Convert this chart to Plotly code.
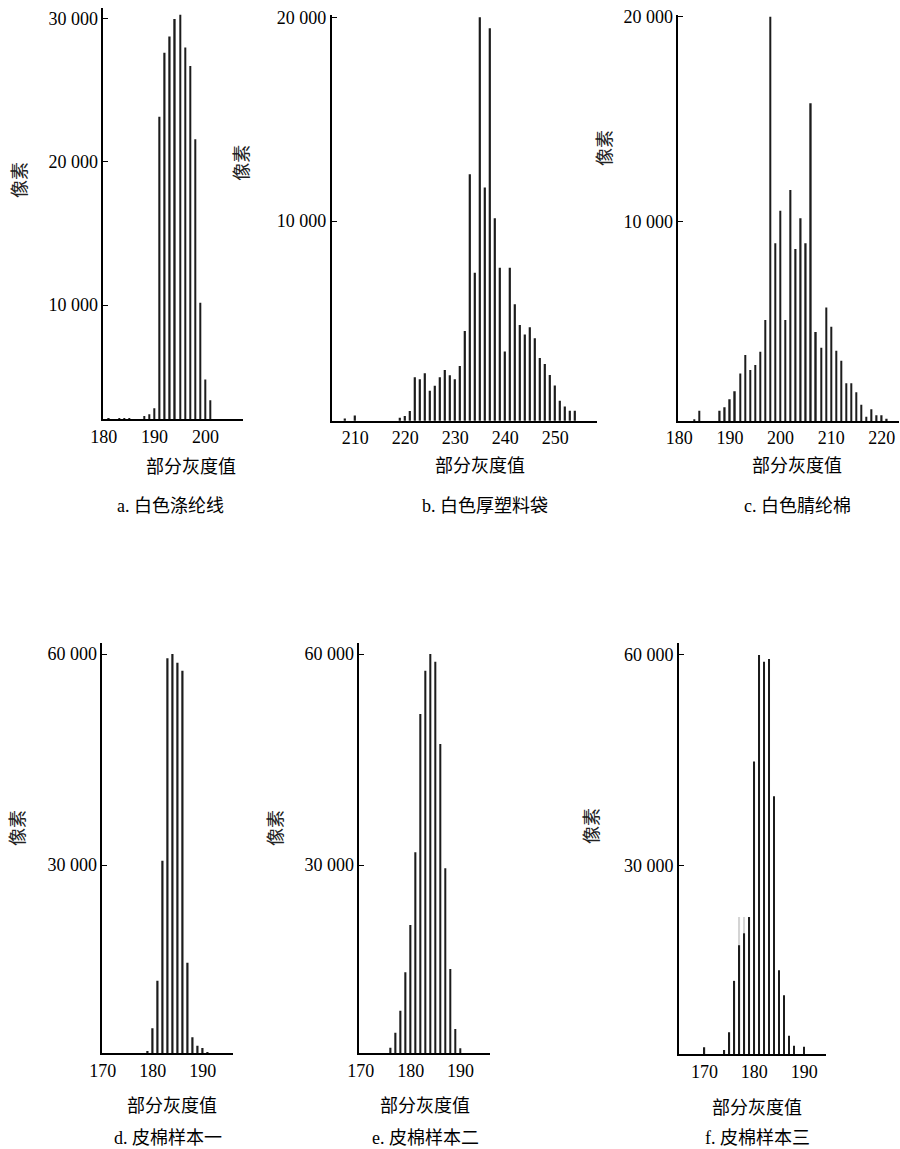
import plotly.graph_objects as go

W, H = 900, 1149

# ---------------- data ----------------
a_x = [181, 183, 184, 185, 188, 189, 190, 191, 192, 193, 194, 195, 196, 197, 198, 199, 200, 201]
a_y = [2110, 2110, 2110, 2110, 2260, 2370, 2800, 23140, 27600, 28730, 29960, 30260, 27970, 26670,
       21560, 10160, 4810, 3350]

b_x = [208, 210] + list(range(219, 255))
b_y = [300, 450,
       340, 430, 670, 2330, 2230, 2520, 1670, 1915, 2330, 2690, 2425, 2230, 2880, 4600,
       12300, 7460, 20000, 11650, 19460, 10130, 7710, 3590, 7710, 5910, 4890, 4430, 4780,
       4240, 3280, 2980, 2440, 1930, 1180, 890, 690, 690]

c_x = [183, 184] + list(range(188, 222))
c_y = [360, 780,
       780, 950, 1340, 1730, 2600, 3500, 2770, 3010, 3660, 5200, 20000, 8950, 10540, 5200,
       11550, 8670, 10170, 8950, 15780, 4620, 3850, 5820, 4880, 3710, 3220, 2120, 2120,
       1680, 1070, 490, 850, 560, 560, 390]

d_x = list(range(179, 192))
d_y = [3550, 6780, 13550, 30610, 59390, 60000, 58770, 57630, 16110, 5500, 4300, 3980, 3400]

e_x = list(range(176, 191))
e_y = [4020, 6150, 9280, 14740, 21470, 31800, 51470, 57630, 60000, 58910, 47200, 29530,
       15210, 6680, 3940]

f_x = [170] + list(range(174, 189)) + [190]
f_y = [4080, 3700, 6210, 13550, 18630, 20330, 22650, 44830, 60000, 59050, 59430, 39850,
       15070, 11510, 5730, 4310, 4160]
# faint grey overdrawn strokes in panel f
f_grey_x = [177, 178]
f_grey_y = [22650, 22650]

# tick labels
a_xticks = [180, 190, 200]
a_yticks = [10000, 20000, 30000]
a_yticktext = ["10 000", "20 000", "30 000"]
b_xticks = [210, 220, 230, 240, 250]
bc_yticks = [10000, 20000]
bc_yticktext = ["10 000", "20 000"]
c_xticks = [180, 190, 200, 210, 220]
def_xticks = [170, 180, 190]
def_yticks = [30000, 60000]
def_yticktext = ["30 000", "60 000"]

x_title = "部分灰度值"
y_title = "像素"
captions = ["a. 白色涤纶线", "b. 白色厚塑料袋", "c. 白色腈纶棉",
            "d. 皮棉样本一", "e. 皮棉样本二", "f. 皮棉样本三"]

# ---------------- layout geometry (pixels) ----------------
# (left, right, top, bottom) of each plot area
boxes = [
    (103.3, 243, 8, 419.3),
    (331.7, 596.7, 15, 420.7),
    (678.3, 899, 15, 421),
    (102.3, 233.3, 643, 1053.3),
    (359.3, 490, 643, 1053.3),
    (679, 825.7, 643, 1054.3),
]
xranges = [[179.9, 207.4], [205.3, 258.3], [179.8, 223.4],
           [169.9, 196.1], [169.7, 195.9], [164.9, 194.3]]
yranges = [[2024, 30726], [196, 20113], [278, 20083],
           [3227, 61564], [3227, 61564], [3085, 61706]]

panels = [
    (a_x, a_y, a_xticks, a_yticks, a_yticktext),
    (b_x, b_y, b_xticks, bc_yticks, bc_yticktext),
    (c_x, c_y, c_xticks, bc_yticks, bc_yticktext),
    (d_x, d_y, def_xticks, def_yticks, def_yticktext),
    (e_x, e_y, def_xticks, def_yticks, def_yticktext),
    (f_x, f_y, def_xticks, def_yticks, def_yticktext),
]

ytitle_pos = [(20, 180), (241.7, 163), (605, 148), (18, 828), (276, 828), (592, 826)]
xtitle_pos = [(191, 467), (480, 466), (797, 466), (172, 1106), (425, 1106), (757, 1108)]
caption_pos = [(170, 506), (485, 506), (797, 506), (168, 1138), (425, 1138), (757, 1138)]

SERIF = "Liberation Serif, Noto Sans CJK SC, serif"
CJK = "Liberation Serif, Noto Sans CJK SC, sans-serif"
BAR = "#1c1c1c"

fig = go.Figure()
layout = dict(
    width=W, height=H,
    margin=dict(l=0, r=0, t=0, b=0, pad=0, autoexpand=False),
    paper_bgcolor="white", plot_bgcolor="white",
    showlegend=False, barmode="overlay",
    font=dict(family=SERIF, size=18, color="black"),
)

annotations = []
for i, ((x, y, xt, yt, ytt), box) in enumerate(zip(panels, boxes)):
    n = "" if i == 0 else str(i + 1)
    l, r, t, b = box
    xa = "x" + n
    ya = "y" + n
    if i == 5:
        fig.add_trace(go.Bar(x=f_grey_x, y=f_grey_y, width=0.28, marker_color="#d4d4d4",
                             marker_line_width=0, xaxis=xa, yaxis=ya, hoverinfo="skip"))
    fig.add_trace(go.Bar(x=x, y=y, width=0.28, marker_color=BAR, marker_line_width=0,
                         xaxis=xa, yaxis=ya))
    layout["xaxis" + n] = dict(
        domain=[l / W, r / W], anchor=ya, range=xranges[i], automargin=False,
        showline=True, linecolor="black", linewidth=1.6, ticks="",
        showgrid=False, zeroline=False, tickvals=xt,
        tickfont=dict(family=SERIF, size=18, color="black"),
    )
    layout["yaxis" + n] = dict(
        domain=[1 - b / H, 1 - t / H], anchor=xa, range=yranges[i], automargin=False,
        showline=True, linecolor="black", linewidth=1.6,
        ticks="inside", ticklen=5, tickwidth=1.4, tickcolor="black",
        showgrid=False, zeroline=False, tickvals=yt, ticktext=ytt,
        tickfont=dict(family=SERIF, size=18, color="black"),
        ticklabelstandoff=0,
    )
    px, py = ytitle_pos[i]
    annotations.append(dict(x=px / W, y=1 - py / H, xref="paper", yref="paper",
                            text=y_title, showarrow=False, textangle=-90,
                            font=dict(family=CJK, size=18, color="#222"),
                            xanchor="center", yanchor="middle"))
    px, py = xtitle_pos[i]
    annotations.append(dict(x=px / W, y=1 - py / H, xref="paper", yref="paper",
                            text=x_title, showarrow=False,
                            font=dict(family=CJK, size=18, color="black"),
                            xanchor="center", yanchor="middle"))
    px, py = caption_pos[i]
    annotations.append(dict(x=px / W, y=1 - py / H, xref="paper", yref="paper",
                            text=captions[i], showarrow=False,
                            font=dict(family=CJK, size=18, color="black"),
                            xanchor="center", yanchor="middle"))

layout["annotations"] = annotations
fig.update_layout(**layout)
fig.write_html("out.html", config={"displayModeBar": False},
               post_script="document.body.style.margin='0px';document.body.style.overflow='hidden';")
